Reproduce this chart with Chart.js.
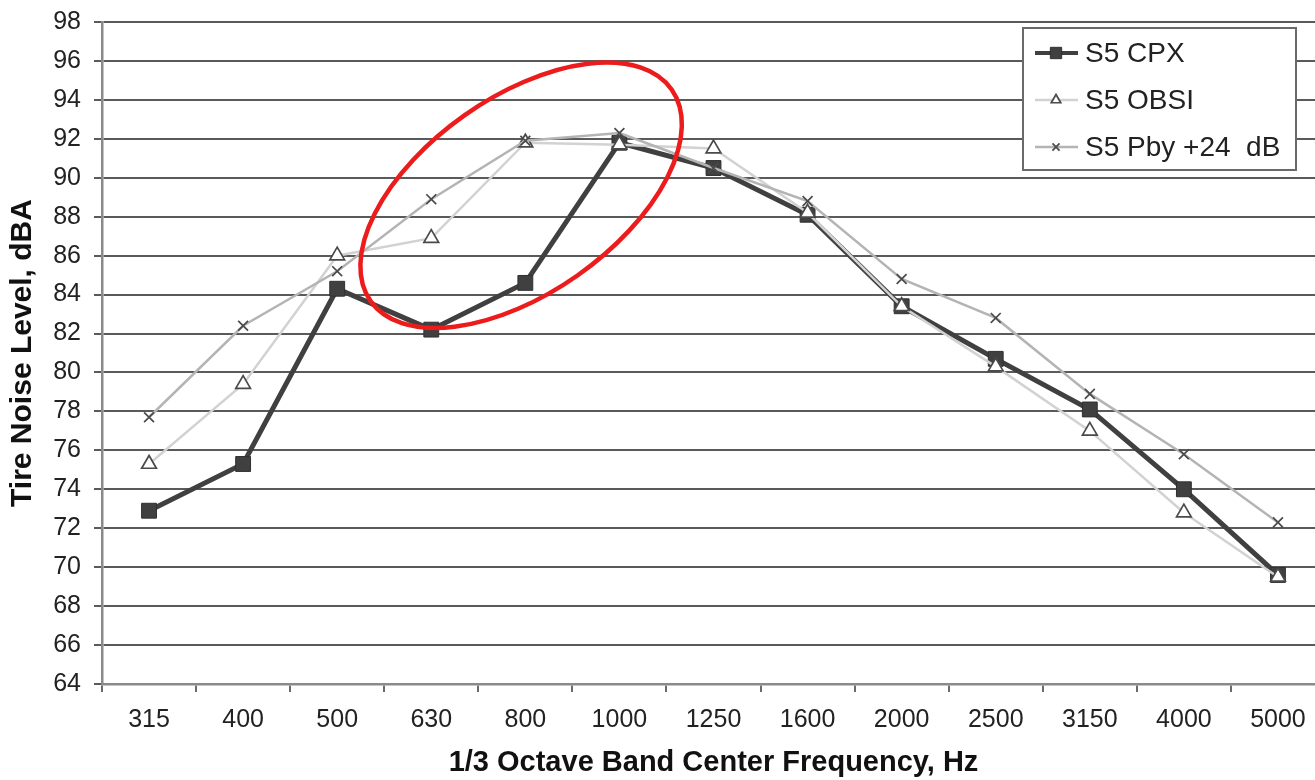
<!DOCTYPE html>
<html><head><meta charset="utf-8">
<script src="https://cdn.jsdelivr.net/npm/chart.js@4.4.0/dist/chart.umd.min.js"></script>
<style>
html,body{margin:0;padding:0;overflow:hidden;background:#fff;width:1315px;height:780px}
#wrap{position:absolute;left:0;top:0;width:1340px;height:780px}
</style>
</head><body><div id="wrap"><canvas id="c"></canvas></div>
<script>
const categories = ['315','400','500','630','800','1000','1250','1600','2000','2500','3150','4000','5000'];
const cpx  = [72.9, 75.3, 84.3, 82.2, 84.6, 91.8, 90.5, 88.1, 83.4, 80.7, 78.1, 74.0, 69.6];
const obsi = [75.3, 79.4, 86.0, 86.9, 91.8, 91.7, 91.5, 88.2, 83.4, 80.3, 77.0, 72.8, 69.5];
const pby  = [77.7, 82.4, 85.2, 88.9, 91.9, 92.3, 90.5, 88.8, 84.8, 82.8, 78.9, 75.8, 72.3];
const seriesNames = ['S5 CPX', 'S5 OBSI', 'S5 Pby +24  dB'];
const yMin = 64, yMax = 98, yStep = 2;
const xTitle = '1/3 Octave Band Center Frequency, Hz';
const yTitle = 'Tire Noise Level, dBA';

const FONT = '"Liberation Sans", Arial, Helvetica, sans-serif';

const styles = [
  {lineColor:'#404040', lineWidth:5, pointStyle:'rect', radius:10.5, fill:'#404040', stroke:'#303030', bw:1, lr:8},
  {lineColor:'#d2d2d2', lineWidth:2.5, pointStyle:'triangle', radius:8.5, fill:'#ffffff', stroke:'#4a4a4a', bw:1.7, lr:5.5},
  {lineColor:'#b4b4b4', lineWidth:2.5, pointStyle:'crossRot', radius:7, fill:'#4a4a4a', stroke:'#4a4a4a', bw:1.7, lr:5}
];

const overlay = {
  id:'overlay',
  afterDatasetsDraw(chart){
    const ctx = chart.ctx;
    const xs = chart.scales.x, ys = chart.scales.y;
    // red ellipse annotation
    const cx = xs.getPixelForValue(3.955), cy = ys.getPixelForValue(89.1);
    ctx.save();
    ctx.beginPath();
    ctx.ellipse(cx, cy, 184, 98, -35.1*Math.PI/180, 0, Math.PI*2);
    ctx.strokeStyle = '#ec1c1c';
    ctx.lineWidth = 4.5;
    ctx.stroke();
    ctx.restore();
    // legend
    const bx = 1023, by = 28, bw = 273, bh = 142;
    ctx.save();
    ctx.fillStyle = '#fff';
    ctx.fillRect(bx, by, bw, bh);
    ctx.strokeStyle = '#6a6a6a';
    ctx.lineWidth = 2;
    ctx.strokeRect(bx, by, bw, bh);
    const rows = [53, 100, 147];
    seriesNames.forEach((name, i) => {
      const s = styles[i];
      const y = rows[i];
      ctx.beginPath();
      ctx.moveTo(1035, y); ctx.lineTo(1078, y);
      ctx.strokeStyle = s.lineColor; ctx.lineWidth = Math.min(s.lineWidth, 4);
      ctx.stroke();
      ctx.fillStyle = s.fill; ctx.strokeStyle = s.stroke; ctx.lineWidth = s.bw;
      Chart.helpers.drawPoint(ctx, {pointStyle:s.pointStyle, radius:s.lr, rotation:0, borderWidth:s.bw}, 1056, y);
      ctx.fillStyle = '#222';
      ctx.font = '28px ' + FONT;
      ctx.textBaseline = 'middle';
      ctx.textAlign = 'left';
      ctx.fillText(name, 1085, y + 1);
    });
    ctx.restore();
  }
};

const datasets = [cpx, obsi, pby].map((d, i) => ({
  label: seriesNames[i],
  data: d,
  borderColor: styles[i].lineColor,
  borderWidth: styles[i].lineWidth,
  pointStyle: styles[i].pointStyle,
  pointRadius: styles[i].radius,
  pointBackgroundColor: styles[i].fill,
  pointBorderColor: styles[i].stroke,
  pointBorderWidth: styles[i].bw,
  tension: 0,
  order: 3 - i
}));

new Chart(document.getElementById('c'), {
  type: 'line',
  data: { labels: categories, datasets },
  options: {
    responsive: true,
    maintainAspectRatio: false,
    animation: false,
    layout: { padding: { top: 22, right: 15, left: 0, bottom: 0 } },
    plugins: { legend: { display: false }, tooltip: { enabled: false } },
    scales: {
      x: {
        type: 'category',
        offset: true,
        afterFit(s){ s.height = 96; s.paddingLeft = 0; s.paddingRight = 0; },
        grid: { offset: true, drawOnChartArea: false, drawTicks: true, tickLength: 8, color: '#6a6a6a', lineWidth: 2 },
        border: { color: '#8a8a8a', width: 2.5 },
        ticks: { color: '#222', font: { family: FONT, size: 25 }, padding: 13, maxRotation: 0, autoSkip: false },
        title: { display: true, text: xTitle, color: '#111', font: { family: FONT, size: 29, weight: 'bold', lineHeight: 1 }, padding: { top: 0, bottom: 3 } }
      },
      y: {
        min: yMin, max: yMax,
        afterFit(s){ s.width = 102; s.paddingTop = 0; s.paddingBottom = 0; },
        grid: { color: '#5a5a5a', lineWidth: 2, drawTicks: true, tickLength: 8 },
        border: { color: '#8a8a8a', width: 2.5 },
        ticks: { stepSize: yStep, color: '#222', font: { family: FONT, size: 25 }, padding: 13 },
        title: { display: true, text: yTitle, color: '#111', font: { family: FONT, size: 30, weight: 'bold', lineHeight: 1 }, padding: { top: 8, bottom: 0 } }
      }
    }
  },
  plugins: [overlay]
});
</script>
</body></html>
